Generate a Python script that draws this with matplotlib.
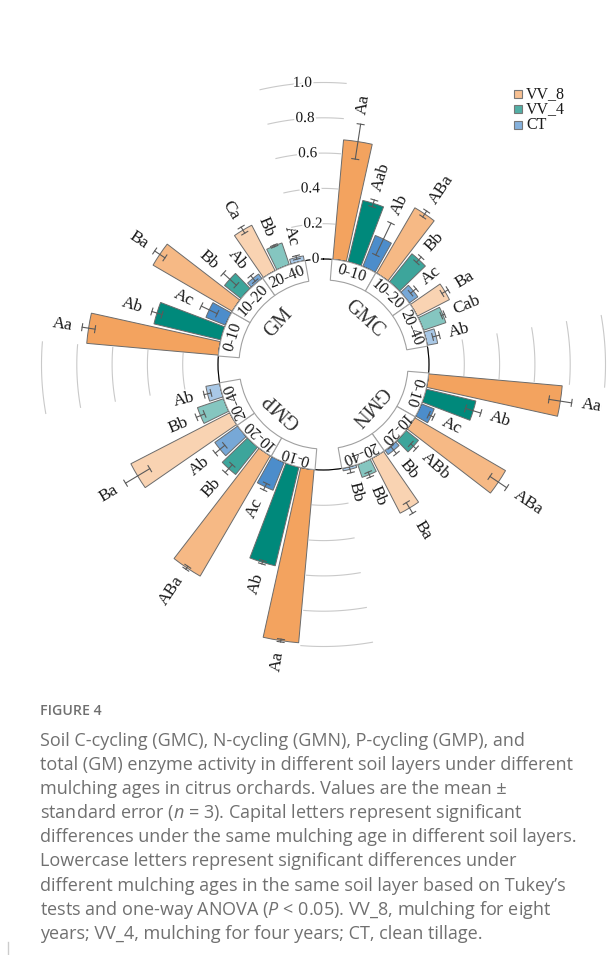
import numpy as np
import matplotlib
matplotlib.use("Agg")
import matplotlib.pyplot as plt
from matplotlib.patches import Rectangle
from matplotlib.colors import to_rgb
import matplotlib.patheffects as pe

# ---------------- data ----------------
groups = ["GMC", "GMN", "GMP", "GM"]
depths = ["0-10", "10-20", "20-40"]
treatments = ["VV_8", "VV_4", "CT"]

# values [treatment][depth]
gmc_mean = [[0.68, 0.43, 0.205], [0.358, 0.205, 0.135], [0.19, 0.06, 0.06]]
gmc_se = [[0.10, 0.02, 0.02], [0.02, 0.02, 0.01], [0.10, 0.02, 0.02]]
gmc_letters = [["Aa", "ABa", "Ba"], ["Aab", "Bb", "Cab"], ["Ab", "Ac", "Ab"]]

gmn_mean = [[0.76, 0.596, 0.35], [0.29, 0.091, 0.078], [0.078, 0.03, 0.015]]
gmn_se = [[0.065, 0.057, 0.035], [0.045, 0.02, 0.015], [0.015, 0.025, 0.02]]
gmn_letters = [["Aa", "ABa", "Ba"], ["Ab", "ABb", "Bb"], ["Ac", "Bb", "Bb"]]

gmp_mean = [[0.985, 0.79, 0.63], [0.575, 0.20, 0.157], [0.17, 0.16, 0.08]]
gmp_se = [[0.008, 0.01, 0.08], [0.01, 0.03, 0.025], [0.02, 0.035, 0.02]]
gmp_letters = [["Aa", "ABa", "Ba"], ["Ab", "Bb", "Bb"], ["Ac", "Ab", "Ab"]]

gm_mean = [[0.749, 0.52, 0.29], [0.39, 0.12, 0.13], [0.12, 0.033, 0.028]]
gm_se = [[0.037, 0.035, 0.02], [0.03, 0.05, 0.005], [0.05, 0.02, 0.01]]
gm_letters = [["Aa", "Ba", "Ca"], ["Ab", "Bb", "Bb"], ["Ac", "Ab", "Ac"]]

radial_ticks = [0, 0.2, 0.4, 0.6, 0.8, 1.0]
radial_tick_labels = ["0", "0.2", "0.4", "0.6", "0.8", "1.0"]

caption_title = "FIGURE 4"
caption_lines = [
    "Soil C-cycling (GMC), N-cycling (GMN), P-cycling (GMP), and",
    "total (GM) enzyme activity in different soil layers under different",
    "mulching ages in citrus orchards. Values are the mean \u00b1",
    "standard error ($n$ = 3). Capital letters represent significant",
    "differences under the same mulching age in different soil layers.",
    "Lowercase letters represent significant differences under",
    "different mulching ages in the same soil layer based on Tukey\u2019s",
    "tests and one-way ANOVA ($P$ < 0.05). VV_8, mulching for eight",
    "years; VV_4, mulching for four years; CT, clean tillage.",
]

means = [gmc_mean, gmn_mean, gmp_mean, gm_mean]
ses = [gmc_se, gmn_se, gmp_se, gm_se]
letters = [gmc_letters, gmn_letters, gmp_letters, gm_letters]

# ---------------- style ----------------
base_colors = ["#F3A35F", "#00897B", "#4C8DCB"]
depth_alpha = [1.0, 0.76, 0.48]
legend_alpha = 0.68
SERIF = "Liberation Serif"
plt.rcParams["mathtext.fontset"] = "custom"
plt.rcParams["mathtext.rm"] = "Open Sans"
plt.rcParams["mathtext.it"] = "Open Sans:italic"


def tint(c, a):
    r = np.array(to_rgb(c))
    return tuple(r * a + (1 - a))


W, H = 616, 955
fig = plt.figure(figsize=(W / 100, H / 100), dpi=100)
fig.patch.set_facecolor("white")

cx, cy = 323.5, 364.5          # pixel centre of the radial chart
S = 176.5                      # pixels per unit
r0 = 105.5                     # inner radius (pixels) of value 0
rorigin = -r0 / S
R_ax = 330
vmax = R_ax / S + rorigin

ax = fig.add_axes([(cx - R_ax) / W, 1 - (cy + R_ax) / H, 2 * R_ax / W, 2 * R_ax / H],
                  projection="polar")
ax.set_theta_zero_location("N")
ax.set_theta_direction(-1)
ax.set_rorigin(rorigin)
ax.set_ylim(0, vmax)
ax.set_xticks([])
ax.set_yticks([])
ax.grid(False)
for s in ax.spines.values():
    s.set_visible(False)
ax.patch.set_visible(False)

start0 = 4.6
span = 75.4
slot = span / 9.0
bar_w = np.deg2rad(slot * 0.88)
axis_deg = -4.3
box_in = (84.5 - r0) / S
grp_r = (61 - r0) / S
pad = 10 / S
cap_px = 3.5
edge = "#6b6b6b"
err_c = "#5a5a5a"

# gap arcs (grid) and base circle
tt = np.linspace(0, 2 * np.pi, 721)
ax.plot(tt, np.zeros_like(tt), color="#b5b5b5", lw=0.8, zorder=1, clip_on=False)
for g in range(4):
    a0 = start0 + 90 * g + span
    a1 = start0 + 90 * (g + 1)
    th = np.deg2rad(np.linspace(a0 - (3 if g == 3 else 0), a1, 60))
    for v in radial_ticks[1:]:
        ax.plot(th, np.full_like(th, v), color="#c9c9c9", lw=0.8, zorder=1)

for g in range(4):
    gstart = start0 + 90 * g
    # depth label boxes
    for d in range(3):
        thc = np.deg2rad(gstart + slot * (3 * d + 1.5))
        ax.bar(thc, -box_in, width=np.deg2rad(slot * 3), bottom=box_in,
               color="white", edgecolor="#a0a0a0", linewidth=0.8, zorder=3, clip_on=False)
        deg = gstart + slot * (3 * d + 1.5)
        ax.text(thc, box_in / 2, depths[d], rotation=-deg, rotation_mode="anchor",
                ha="center", va="center", fontsize=11.5, family=SERIF, color="#1a1a1a",
                zorder=5)
    gdeg = gstart + span / 2
    ax.text(np.deg2rad(gdeg), grp_r, groups[g], rotation=-gdeg, rotation_mode="anchor",
            ha="center", va="center", fontsize=14.5, family=SERIF, color="#333333")
    # bars
    for d in range(3):
        for t in range(3):
            k = 3 * d + t
            deg = gstart + slot * (k + 0.5)
            th = np.deg2rad(deg)
            v = means[g][t][d]
            e = ses[g][t][d]
            ax.bar(th, v, width=bar_w, bottom=0, color=tint(base_colors[t], depth_alpha[d]),
                   edgecolor=edge, linewidth=0.7, zorder=2)
            lo, hi = max(v - e, 0), v + e
            ax.plot([th, th], [lo, hi], color=err_c, lw=0.8, zorder=4)
            for rr in (lo, hi):
                half = cap_px / ((rr - rorigin) * S)
                ax.plot([th - half, th + half], [rr, rr], color=err_c, lw=0.8, zorder=4)
            if deg < 180:
                rot, ha = 90 - deg, "left"
            else:
                rot, ha = 270 - deg, "right"
            ax.text(th, hi + pad, letters[g][t][d], rotation=rot, rotation_mode="anchor",
                    ha=ha, va="center", fontsize=12.5, family=SERIF, color="#1a1a1a")

# radial axis labels
for v, lab in zip(radial_ticks, radial_tick_labels):
    ax.text(np.deg2rad(axis_deg), v, lab, ha="center", va="center", fontsize=11,
            family=SERIF, color="#1a1a1a", zorder=6,
            path_effects=[pe.withStroke(linewidth=3, foreground="white")])

# legend (drawn manually)
for i, (name, c) in enumerate(zip(treatments, base_colors)):
    yc = 94 + 15.5 * i
    fig.add_artist(Rectangle((513.5 / W, 1 - (yc + 4) / H), 8 / W, 8 / H,
                             transform=fig.transFigure, facecolor=tint(c, legend_alpha),
                             edgecolor="#777777", linewidth=0.8))
    fig.text(526 / W, 1 - yc / H, name, fontsize=11.5, family=SERIF, color="#1a1a1a",
             ha="left", va="center")

# caption
fig.text(40 / W, 1 - 711 / H, caption_title, fontsize=10.2, color="#707070",
         family="Open Sans", fontweight="semibold", va="center", ha="left")
for i, line in enumerate(caption_lines):
    fig.text(40 / W, 1 - (741 + 24.1 * i) / H, line, fontsize=13, color="#707070",
             family="Open Sans", va="center", ha="left")

# left frame line
fig.add_artist(plt.Line2D([8 / W, 8 / W], [0, 1 - 942 / H], color="#cccccc", lw=1))

fig.savefig("out.png", dpi=100, facecolor="white")
